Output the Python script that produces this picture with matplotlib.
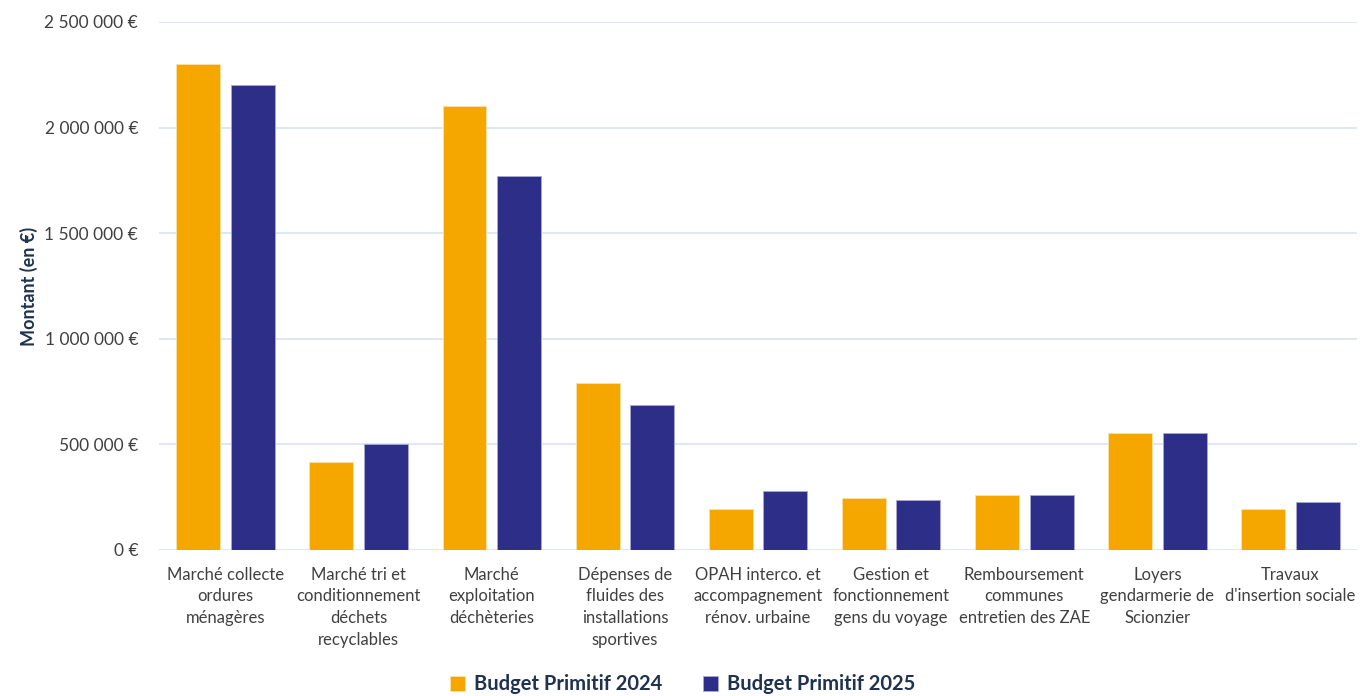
import matplotlib.pyplot as plt
import numpy as np
from matplotlib.ticker import FuncFormatter

plt.rcParams['font.family'] = ['Lato', 'DejaVu Sans']

# categories (line breaks as shown on the chart)
categories = [
    "Marché collecte\nordures\nménagères",
    "Marché tri et\nconditionnement\ndéchets\nrecyclables",
    "Marché\nexploitation\ndéchèteries",
    "Dépenses de\nfluides des\ninstallations\nsportives",
    "OPAH interco. et\naccompagnement\nrénov. urbaine",
    "Gestion et\nfonctionnement\ngens du voyage",
    "Remboursement\ncommunes\nentretien des ZAE",
    "Loyers\ngendarmerie de\nScionzier",
    "Travaux\nd'insertion sociale",
]
bp_2024 = [2300000, 415000, 2100000, 790000, 195000, 245000, 260000, 555000, 195000]
bp_2025 = [2200000, 500000, 1770000, 685000, 278000, 235000, 260000, 555000, 228000]
series_names = ["Budget Primitif 2024", "Budget Primitif 2025"]

orange = "#F5A700"
navy = "#2D2E87"
grid_col = "#D6E4F3"
text_col = "#404040"
title_col = "#1F3250"

fig = plt.figure(figsize=(13.65, 6.96), dpi=100)
ax = fig.add_axes([0.1165, 0.2098, 0.8777, 0.7586])

x = np.arange(len(categories))
w = 0.33
ax.bar(x - 0.205, bp_2024, width=w, color=orange, edgecolor="#FBE3A6", linewidth=0.6,
       label=series_names[0], zorder=3)
ax.bar(x + 0.205, bp_2025, width=w, color=navy, edgecolor="#A9A9D6", linewidth=0.6,
       label=series_names[1], zorder=3)

ax.set_xlim(-0.5, len(categories) - 0.5)
ax.set_ylim(0, 2500000)
ax.set_yticks(np.arange(0, 2500001, 500000))
ax.yaxis.set_major_formatter(FuncFormatter(lambda v, p: f"{int(v):,}".replace(",", " ") + " €"))
ax.grid(axis="y", color=grid_col, linewidth=1.2, zorder=0)
for s in ax.spines.values():
    s.set_visible(False)

ax.set_xticks(x)
ax.set_xticklabels(categories, fontsize=12, color=text_col, linespacing=1.45, va="top")
ax.tick_params(axis="x", length=0, pad=12)
ax.tick_params(axis="y", length=0, pad=15, labelsize=12.5, labelcolor=text_col)

ax.set_ylabel("Montant (en €)", fontsize=13, fontweight="bold", color=title_col)
ax.yaxis.set_label_coords(38 / 1365, (696 - 286) / 696, transform=fig.transFigure)

leg = fig.legend(loc="center", bbox_to_anchor=(0.5, 0.017), ncol=2, frameon=False,
                 handlelength=0.75, handleheight=0.75, handletextpad=0.45, columnspacing=2.0,
                 prop={"size": 14.5, "weight": "bold"})
for t in leg.get_texts():
    t.set_color(title_col)

fig.savefig("out.png", dpi=100)
